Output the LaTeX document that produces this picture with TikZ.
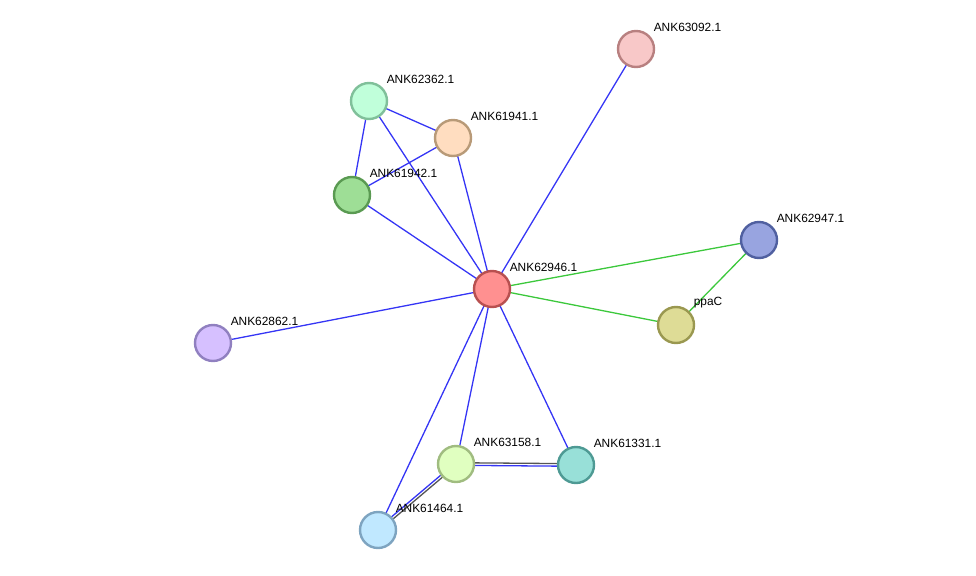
\documentclass[tikz,border=0pt]{standalone}
\usepackage{fontspec}
\setmainfont{Liberation Sans}
\usepackage{xcolor}
\usetikzlibrary{calc, backgrounds}

\definecolor{edgeblue}{HTML}{3535F5}
\definecolor{edgegreen}{HTML}{3CC83C}
\definecolor{edgegray}{HTML}{555555}

\begin{document}
\begin{tikzpicture}[
  x=1pt, y=-1pt,
  prot/.style  = {circle, minimum size=36pt, inner sep=0pt, line width=2.4pt},
  lbl/.style   = {font=\fontsize{11.9}{13}\selectfont, inner sep=1pt, xshift=3pt, yshift=2.5pt},
  blue/.style  = {edgeblue, line width=1.3pt},
  green/.style = {edgegreen, line width=1.3pt},
  gray/.style  = {edgegray, line width=1.3pt}
]
  \useasboundingbox (0,0) rectangle (976,575);

  % proteins
  \node[prot, fill={rgb,255:red,255;green,144;blue,144}, draw={rgb,255:red,184;green,80;blue,80},
        label={[lbl]45:ANK62946.1}] (n2946) at (492,289) {};
  \node[prot, fill={rgb,255:red,248;green,200;blue,200}, draw={rgb,255:red,184;green,128;blue,128},
        label={[lbl]45:ANK63092.1}] (n3092) at (636,49) {};
  \node[prot, fill={rgb,255:red,192;green,255;blue,218}, draw={rgb,255:red,128;green,192;blue,154},
        label={[lbl]45:ANK62362.1}] (n2362) at (369,101) {};
  \node[prot, fill={rgb,255:red,255;green,221;blue,192}, draw={rgb,255:red,184;green,154;blue,120},
        label={[lbl]45:ANK61941.1}] (n1941) at (453,138) {};
  \node[prot, fill={rgb,255:red,158;green,222;blue,150}, draw={rgb,255:red,90;green,154;blue,82},
        label={[lbl]45:ANK61942.1}] (n1942) at (352,195) {};
  \node[prot, fill={rgb,255:red,152;green,164;blue,224}, draw={rgb,255:red,80;green,96;blue,160},
        label={[lbl]45:ANK62947.1}] (n2947) at (759,240) {};
  \node[prot, fill={rgb,255:red,222;green,220;blue,150}, draw={rgb,255:red,154;green,152;blue,80},
        label={[lbl]45:ppaC}] (nppac) at (676,325) {};
  \node[prot, fill={rgb,255:red,214;green,192;blue,255}, draw={rgb,255:red,144;green,128;blue,192},
        label={[lbl]45:ANK62862.1}] (n2862) at (213,343) {};
  \node[prot, fill={rgb,255:red,224;green,255;blue,192}, draw={rgb,255:red,160;green,188;blue,128},
        label={[lbl]45:ANK63158.1}] (n3158) at (456,464) {};
  \node[prot, fill={rgb,255:red,152;green,224;blue,216}, draw={rgb,255:red,78;green,154;blue,148},
        label={[lbl]45:ANK61331.1}] (n1331) at (576,465) {};
  \node[prot, fill={rgb,255:red,192;green,232;blue,255}, draw={rgb,255:red,126;green,164;blue,192},
        label={[lbl]45:ANK61464.1}] (n1464) at (378,530) {};

  % edges
  \begin{scope}[on background layer]
    \foreach \t in {n3092,n2362,n1941,n1942,n2862,n3158,n1331,n1464}
      \draw[blue] (n2946.center) -- (\t.center);
    \draw[blue] (n2362.center) -- (n1941.center);
    \draw[blue] (n2362.center) -- (n1942.center);
    \draw[blue] (n1942.center) -- (n1941.center);
    \draw[green] (n2946.center) -- (n2947.center);
    \draw[green] (n2946.center) -- (nppac.center);
    \draw[green] (n2947.center) -- (nppac.center);
    \draw[gray] ($(n3158.center)!1.3pt!90:(n1331.center)$) -- ($(n1331.center)!1.3pt!-90:(n3158.center)$);
    \draw[blue] ($(n3158.center)!1.3pt!-90:(n1331.center)$) -- ($(n1331.center)!1.3pt!90:(n3158.center)$);
    \draw[gray] ($(n3158.center)!1.3pt!90:(n1464.center)$) -- ($(n1464.center)!1.3pt!-90:(n3158.center)$);
    \draw[blue] ($(n3158.center)!1.3pt!-90:(n1464.center)$) -- ($(n1464.center)!1.3pt!90:(n3158.center)$);
  \end{scope}
\end{tikzpicture}
\end{document}
